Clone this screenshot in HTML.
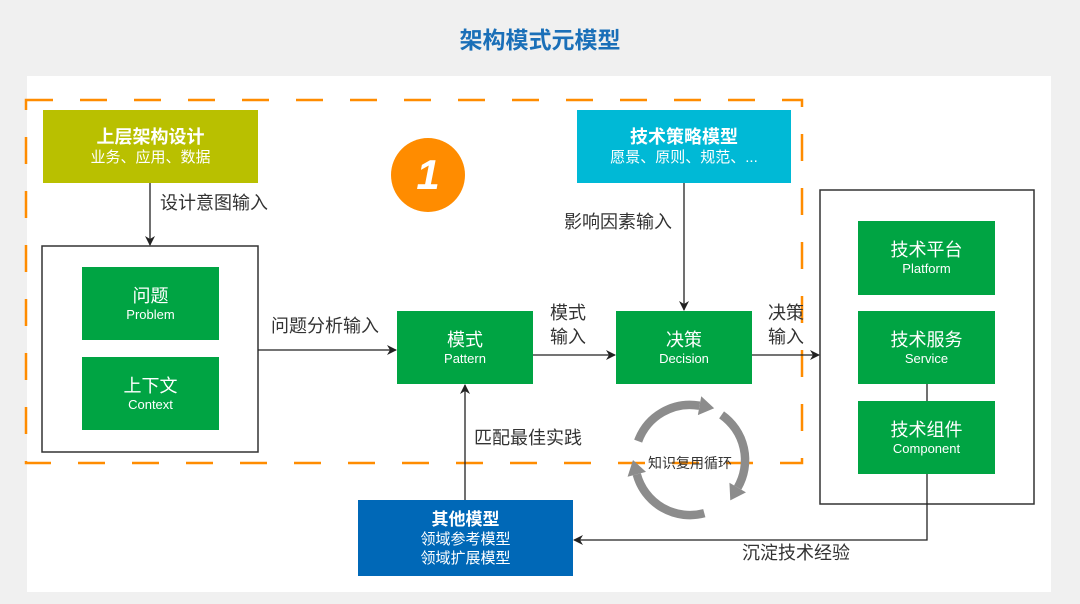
<!DOCTYPE html>
<html><head><meta charset="utf-8"><style>
body{margin:0;width:1080px;height:604px;background:#f0f0f0;font-family:"Liberation Sans","Noto Sans CJK SC",sans-serif;position:relative;overflow:hidden}
.a{position:absolute}
.box{position:absolute;color:#fff;text-align:center;display:flex;flex-direction:column;justify-content:center;align-items:center}
.g{background:#00a443}
.g .c{font-size:18px;line-height:22px}
.g .e{font-size:13px;line-height:16px}
.lbl{position:absolute;font-size:18px;color:#333;line-height:24px}
</style></head><body>
<div class="a" style="left:0;top:21px;width:1080px;text-align:center;font-size:23px;font-weight:bold;color:#1a6fb8">架构模式元模型</div>
<div class="a" style="left:27px;top:76px;width:1024px;height:516px;background:#fff"></div>
<svg class="a" style="left:0;top:0" width="1080" height="604">
<defs><marker id="ar" markerWidth="10" markerHeight="10" refX="9" refY="5" orient="auto" markerUnits="userSpaceOnUse"><path d="M0,0 L10,5 L0,10 L3,5z" fill="#222"/></marker></defs>
<rect x="26" y="100" width="776" height="363" fill="none" stroke="#ff8c00" stroke-width="2.5" stroke-dasharray="27,27"/>
<rect x="42" y="246" width="216" height="206" fill="none" stroke="#333" stroke-width="1.5"/>
<rect x="820" y="190" width="214" height="314" fill="none" stroke="#333" stroke-width="1.5"/>
<line x1="150" y1="183" x2="150" y2="245" stroke="#222" stroke-width="1.3" marker-end="url(#ar)"/>
<line x1="258" y1="350" x2="396" y2="350" stroke="#222" stroke-width="1.3" marker-end="url(#ar)"/>
<line x1="533" y1="355" x2="615" y2="355" stroke="#222" stroke-width="1.3" marker-end="url(#ar)"/>
<line x1="752" y1="355" x2="819" y2="355" stroke="#222" stroke-width="1.3" marker-end="url(#ar)"/>
<line x1="684" y1="183" x2="684" y2="310" stroke="#222" stroke-width="1.3" marker-end="url(#ar)"/>
<line x1="465" y1="500" x2="465" y2="385" stroke="#222" stroke-width="1.3" marker-end="url(#ar)"/>
<line x1="927" y1="384" x2="927" y2="401" stroke="#222" stroke-width="1.3"/>
<polyline points="927,474 927,540 574,540" fill="none" stroke="#222" stroke-width="1.3" marker-end="url(#ar)"/>
<g transform="translate(690,460) scale(1.06) translate(-690,-460)">
<g fill="none" stroke="#8c8c8c" stroke-width="8">
<path d="M641.1,442.2 A52 52 0 0 1 699,408.8"/>
<path d="M719.8,417.4 A52 52 0 0 1 735,486"/>
<path d="M703.5,510.2 A52 52 0 0 1 639.8,473.5"/>
</g>
<g fill="#8c8c8c">
<polygon points="712.8,411.2 700.6,399.9 697.4,417.7"/>
<polygon points="728,498.1 742.8,490.5 727.2,481.5"/>
<polygon points="636.2,460 631.1,475.8 648.5,471.2"/>
</g>
</g>
<circle cx="428" cy="175" r="37" fill="#ff8c00"/>
<text x="428" y="189" text-anchor="middle" font-family="Liberation Sans,sans-serif" font-size="42" font-weight="bold" font-style="italic" fill="#fff">1</text>
</svg>
<div class="box" style="left:43px;top:110px;width:215px;height:73px;background:#b9c000"><div style="font-size:18px;font-weight:bold;line-height:22px">上层架构设计</div><div style="font-size:15px;line-height:19px">业务、应用、数据</div></div>
<div class="box" style="left:577px;top:110px;width:214px;height:73px;background:#00b9d6"><div style="font-size:18px;font-weight:bold;line-height:22px">技术策略模型</div><div style="font-size:15px;line-height:19px">愿景、原则、规范、...</div></div>
<div class="box" style="left:358px;top:500px;width:215px;height:76px;background:#0068b7"><div style="font-size:17px;font-weight:bold;line-height:21px">其他模型</div><div style="font-size:15px;line-height:19px">领域参考模型</div><div style="font-size:15px;line-height:19px">领域扩展模型</div></div>
<div class="box g" style="left:82px;top:267px;width:137px;height:73px"><div class="c">问题</div><div class="e">Problem</div></div>
<div class="box g" style="left:82px;top:357px;width:137px;height:73px"><div class="c">上下文</div><div class="e">Context</div></div>
<div class="box g" style="left:397px;top:311px;width:136px;height:73px"><div class="c">模式</div><div class="e">Pattern</div></div>
<div class="box g" style="left:616px;top:311px;width:136px;height:73px"><div class="c">决策</div><div class="e">Decision</div></div>
<div class="box g" style="left:858px;top:221px;width:137px;height:74px"><div class="c">技术平台</div><div class="e">Platform</div></div>
<div class="box g" style="left:858px;top:311px;width:137px;height:73px"><div class="c">技术服务</div><div class="e">Service</div></div>
<div class="box g" style="left:858px;top:401px;width:137px;height:73px"><div class="c">技术组件</div><div class="e">Component</div></div>
<div class="lbl" style="left:160px;top:191px">设计意图输入</div>
<div class="lbl" style="left:271px;top:314px">问题分析输入</div>
<div class="lbl" style="left:550px;top:301px">模式<br>输入</div>
<div class="lbl" style="left:768px;top:301px">决策<br>输入</div>
<div class="lbl" style="left:564px;top:210px">影响因素输入</div>
<div class="lbl" style="left:474px;top:426px">匹配最佳实践</div>
<div class="lbl" style="left:742px;top:541px">沉淀技术经验</div>
<div class="a" style="left:630px;top:453px;width:120px;text-align:center;font-size:14px;color:#333">知识复用循环</div>
</body></html>
